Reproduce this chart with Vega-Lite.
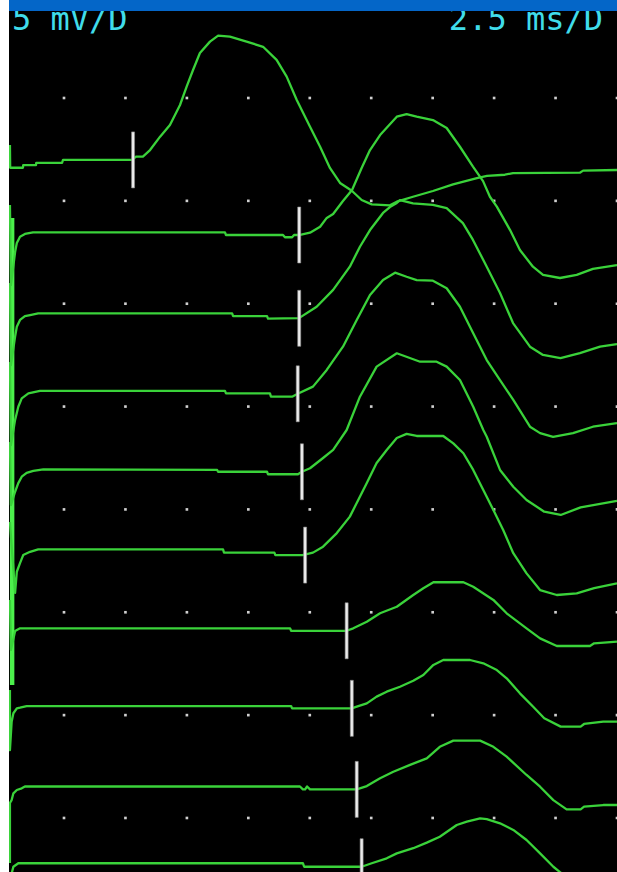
{
  "$schema": "https://vega.github.io/schema/vega-lite/v6.json",
  "description": "Ten stacked evoked-potential sweeps on an oscilloscope-style screen, 5 mV and 2.5 ms per division, with onset cursors.",
  "width": 608,
  "height": 872,
  "autosize": {"type": "none"},
  "padding": {"left": 9, "top": 0, "right": 0, "bottom": 0},
  "background": "#ffffff",
  "config": {"view": {"fill": "#000000", "stroke": null}},
  "datasets": {
    "traces": [
      {"trace": 1,
       "t": [0.30,0.31,0.83,0.84,1.36,1.37,2.42,2.46,5.27,5.43,5.71,6.00,6.41,6.81,7.22,7.49,7.75,8.03,8.44,8.77,9.25,9.93,10.60,11.15,11.56,11.97,12.51,12.92,13.32,13.73,14.21,14.61,15.02,15.76,16.04,16.70,17.51,18.33,19.30,19.71,20.44,20.77,23.49,23.62,25.0],
       "v": [-2.28,-3.39,-3.39,-3.26,-3.26,-3.15,-3.15,-3.01,-3.01,-2.85,-2.85,-2.53,-1.88,-1.31,-0.34,0.55,1.36,2.19,2.74,3.03,2.98,2.74,2.49,1.85,1.04,-0.10,-1.40,-2.37,-3.40,-4.13,-4.51,-4.96,-5.17,-5.22,-5.04,-4.80,-4.52,-4.20,-3.89,-3.79,-3.73,-3.65,-3.63,-3.53,-3.50]},
      {"trace": 2,
       "t": [0.30,0.34,0.51,0.58,0.71,0.91,1.24,9.05,9.09,11.41,11.49,11.78,11.86,12.06,12.51,12.92,13.19,13.45,13.85,14.22,14.61,14.95,15.36,16.04,16.44,16.85,17.51,18.07,18.61,19.14,19.55,19.83,20.11,20.65,21.05,21.58,21.99,22.68,23.36,24.02,25.0],
       "v": [-5.20,-9.09,-7.49,-7.05,-6.74,-6.61,-6.53,-6.53,-6.66,-6.66,-6.77,-6.77,-6.66,-6.66,-6.55,-6.26,-5.83,-5.64,-5.01,-4.47,-3.40,-2.53,-1.80,-0.91,-0.78,-0.91,-1.07,-1.46,-2.37,-3.34,-4.04,-4.80,-5.28,-6.42,-7.39,-8.20,-8.60,-8.75,-8.60,-8.31,-8.12]},
      {"trace": 3,
       "t": [0.30,0.34,0.51,0.58,0.71,0.91,1.12,1.45,9.34,9.38,10.76,10.80,12.06,12.78,13.45,14.13,14.54,14.95,15.48,15.76,16.04,16.17,16.70,17.51,18.07,18.73,19.14,19.70,20.24,20.77,21.46,21.99,22.70,23.49,24.31,25.0],
       "v": [-8.99,-12.98,-11.60,-11.12,-10.79,-10.60,-10.55,-10.47,-10.47,-10.60,-10.60,-10.73,-10.70,-10.15,-9.33,-8.20,-7.23,-6.42,-5.59,-5.30,-5.10,-4.96,-5.12,-5.20,-5.35,-6.08,-6.90,-8.20,-9.48,-10.94,-12.09,-12.49,-12.64,-12.40,-12.09,-11.96]},
      {"trace": 4,
       "t": [0.30,0.34,0.51,0.64,0.78,1.05,1.52,9.05,9.09,10.88,10.92,11.78,12.01,12.63,13.19,13.85,14.41,14.95,15.48,15.97,16.44,16.85,17.51,18.07,18.61,19.15,19.70,20.24,20.78,21.46,21.87,22.40,23.21,24.02,25.0],
       "v": [-12.83,-16.87,-15.65,-15.01,-14.60,-14.36,-14.24,-14.24,-14.36,-14.36,-14.52,-14.52,-14.38,-14.03,-13.22,-12.09,-10.79,-9.58,-8.85,-8.49,-8.69,-8.85,-8.88,-9.25,-10.15,-11.44,-12.74,-13.71,-14.68,-15.98,-16.29,-16.47,-16.29,-15.98,-15.80]},
      {"trace": 5,
       "t": [0.30,0.34,0.51,0.64,0.78,0.98,1.25,1.66,8.73,8.77,10.76,10.80,12.02,12.18,12.51,13.04,13.45,14.00,14.54,15.22,16.04,16.99,17.66,18.07,18.61,19.15,19.56,19.70,20.24,20.78,21.32,22.04,22.71,23.52,25.0],
       "v": [-16.72,-19.79,-19.14,-18.72,-18.41,-18.22,-18.13,-18.05,-18.08,-18.17,-18.17,-18.29,-18.29,-18.17,-18.00,-17.50,-17.11,-16.14,-14.52,-13.06,-12.41,-12.82,-12.82,-13.06,-13.71,-15.01,-16.14,-16.47,-18.08,-18.90,-19.54,-20.11,-20.27,-19.90,-19.58]},
      {"trace": 6,
       "t": [0.30,0.51,0.58,0.71,0.84,1.12,1.45,8.97,9.01,11.06,11.10,12.20,12.63,13.04,13.60,14.13,14.41,14.82,15.22,15.63,16.04,16.44,16.85,17.93,18.34,18.75,19.15,19.56,19.97,20.37,20.78,21.32,21.87,22.55,23.36,24.07,25.0],
       "v": [-20.61,-24.06,-23.03,-22.61,-22.22,-22.06,-21.94,-21.94,-22.10,-22.10,-22.22,-22.22,-22.10,-21.81,-21.15,-20.35,-19.69,-18.72,-17.74,-17.11,-16.53,-16.33,-16.43,-16.43,-16.79,-17.27,-18.08,-19.06,-20.03,-21.00,-22.13,-23.11,-23.92,-24.16,-24.08,-23.83,-23.59]},
      {"trace": 7,
       "t": [0.30,0.34,0.51,0.71,11.70,11.74,14.00,14.27,14.82,15.36,16.04,16.71,17.12,17.53,18.75,19.15,19.97,20.51,21.32,21.87,22.55,23.90,24.07,25.0],
       "v": [-24.40,-26.83,-25.91,-25.78,-25.78,-25.90,-25.90,-25.78,-25.46,-25.05,-24.73,-24.16,-23.83,-23.54,-23.54,-23.76,-24.40,-25.05,-25.78,-26.27,-26.64,-26.64,-26.51,-26.43]},
      {"trace": 8,
       "t": [0.30,0.30,0.37,0.44,0.58,0.71,0.98,11.74,11.78,14.21,14.41,14.82,15.22,15.63,16.17,16.71,17.12,17.53,17.93,19.02,19.56,20.11,20.51,21.05,21.59,22.04,22.71,23.52,23.66,24.44,25.0],
       "v": [-28.78,-31.70,-30.32,-29.91,-29.67,-29.64,-29.56,-29.56,-29.67,-29.67,-29.59,-29.43,-29.10,-28.86,-28.62,-28.33,-28.05,-27.56,-27.32,-27.32,-27.48,-27.81,-28.21,-28.94,-29.59,-30.15,-30.56,-30.56,-30.43,-30.32,-30.32]},
      {"trace": 9,
       "t": [0.30,0.30,0.37,0.44,0.58,0.78,0.91,12.10,12.22,12.31,12.39,12.51,14.41,14.82,15.36,15.90,16.58,17.26,17.79,18.34,19.43,19.97,20.51,21.32,21.87,22.41,22.95,23.52,23.66,24.44,25.0],
       "v": [-37.19,-34.27,-34.13,-33.80,-33.64,-33.56,-33.47,-33.47,-33.61,-33.61,-33.47,-33.61,-33.61,-33.45,-33.07,-32.75,-32.42,-32.10,-31.54,-31.24,-31.24,-31.54,-32.02,-32.91,-33.48,-34.13,-34.58,-34.58,-34.45,-34.37,-34.37]},
      {"trace": 10,
       "t": [0.30,0.44,0.64,12.22,12.27,14.61,15.02,15.63,16.04,16.71,17.26,17.79,18.48,18.89,19.43,19.70,20.24,20.78,21.32,21.87,22.41,22.68,23.09],
       "v": [-38.02,-37.37,-37.20,-37.20,-37.37,-37.37,-37.20,-36.96,-36.72,-36.47,-36.20,-35.91,-35.34,-35.18,-35.02,-35.06,-35.26,-35.58,-36.07,-36.72,-37.37,-37.63,-38.02]}
    ],
    "markers": [
      {"trace": 1, "t": 5.31, "v": -3.01},
      {"trace": 2, "t": 12.07, "v": -6.66},
      {"trace": 3, "t": 12.07, "v": -10.71},
      {"trace": 4, "t": 12.01, "v": -14.38},
      {"trace": 5, "t": 12.18, "v": -18.17},
      {"trace": 6, "t": 12.31, "v": -22.22},
      {"trace": 7, "t": 14.00, "v": -25.90},
      {"trace": 8, "t": 14.21, "v": -29.67},
      {"trace": 9, "t": 14.41, "v": -33.61},
      {"trace": 10, "t": 14.61, "v": -37.37}
    ],
    "graticule": [
      {"v": 0, "t": [2.5,5,7.5,10,12.5,15,17.5,20,22.5,25]},
      {"v": -5, "t": [2.5,5,7.5,10,12.5,15,17.5,20,22.5,25]},
      {"v": -10, "t": [2.5,5,7.5,10,12.5,15,17.5,20,22.5,25]},
      {"v": -15, "t": [2.5,5,7.5,10,12.5,15,17.5,20,22.5,25]},
      {"v": -20, "t": [2.5,5,7.5,10,12.5,15,17.5,20,22.5,25]},
      {"v": -25, "t": [2.5,5,7.5,10,12.5,15,17.5,20,22.5,25]},
      {"v": -30, "t": [2.5,5,7.5,10,12.5,15,17.5,20,22.5,25]},
      {"v": -35, "t": [2.5,5,7.5,10,12.5,15,17.5,20,22.5,25]}
    ],
    "artifact": [
      {"t1": 0.30, "t2": 0.48, "vTop": -5.83, "vBottom": -28.54}
    ]
  },
  "layer": [
    {
      "data": {"values": [{}]},
      "mark": {"type": "text", "text": "5 mV/D", "font": "DejaVu Sans Mono", "fontSize": 32, "color": "#40dcea", "align": "left", "baseline": "alphabetic"},
      "encoding": {
        "x": {"datum": 0.38, "type": "quantitative", "scale": {"domain": [0.262, 25], "nice": false, "zero": false}, "axis": null},
        "y": {"datum": 3.31, "type": "quantitative", "scale": {"domain": [-37.626, 4.764], "nice": false, "zero": false}, "axis": null}
      }
    },
    {
      "data": {"values": [{}]},
      "mark": {"type": "text", "text": "2.5 ms/D", "font": "DejaVu Sans Mono", "fontSize": 32, "color": "#40dcea", "align": "right", "baseline": "alphabetic"},
      "encoding": {
        "x": {"datum": 24.43, "type": "quantitative"},
        "y": {"datum": 3.31, "type": "quantitative"}
      }
    },
    {
      "data": {"values": [{}]},
      "mark": {"type": "rect", "color": "#0466c8"},
      "encoding": {
        "x": {"datum": 0.262, "type": "quantitative"},
        "x2": {"datum": 25},
        "y": {"datum": 4.764, "type": "quantitative"},
        "y2": {"datum": 4.23}
      }
    },
    {
      "data": {"name": "graticule"},
      "transform": [{"flatten": ["t"]}],
      "mark": {"type": "point", "shape": "square", "filled": true, "size": 7, "color": "#d0d0d0", "opacity": 1},
      "encoding": {
        "x": {"field": "t", "type": "quantitative"},
        "y": {"field": "v", "type": "quantitative"}
      }
    },
    {
      "data": {"name": "artifact"},
      "mark": {"type": "rect", "color": "#4cf04c"},
      "encoding": {
        "x": {"field": "t1", "type": "quantitative"},
        "x2": {"field": "t2"},
        "y": {"field": "vTop", "type": "quantitative"},
        "y2": {"field": "vBottom"}
      }
    },
    {
      "data": {"name": "traces"},
      "transform": [{"flatten": ["t", "v"]}],
      "mark": {"type": "line", "color": "#3ad23a", "strokeWidth": 2.3, "clip": true, "strokeJoin": "round"},
      "encoding": {
        "x": {"field": "t", "type": "quantitative"},
        "y": {"field": "v", "type": "quantitative"},
        "detail": {"field": "trace", "type": "nominal"}
      }
    },
    {
      "data": {"name": "markers"},
      "mark": {"type": "tick", "orient": "vertical", "size": 56, "thickness": 3, "color": "#ececec", "opacity": 1, "stroke": "#8c8c8c", "strokeWidth": 0.6, "clip": true},
      "encoding": {
        "x": {"field": "t", "type": "quantitative"},
        "y": {"field": "v", "type": "quantitative"}
      }
    }
  ]
}
